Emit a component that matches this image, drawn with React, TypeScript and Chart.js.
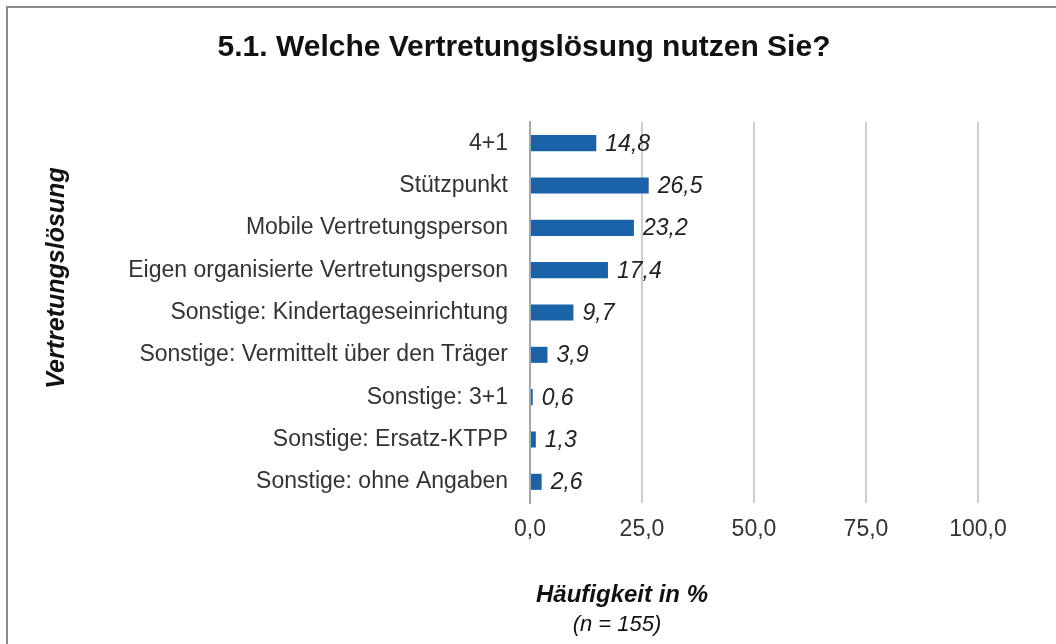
import React, { useEffect, useRef } from 'react';
import { Chart, registerables } from 'chart.js';

Chart.register(...registerables);

const TITLE = '5.1. Welche Vertretungslösung nutzen Sie?';
const Y_TITLE = 'Vertretungslösung';
const X_TITLE = 'Häufigkeit in %';
const X_SUBTITLE = '(n = 155)';

const categories = [
  '4+1',
  'Stützpunkt',
  'Mobile Vertretungsperson',
  'Eigen organisierte Vertretungsperson',
  'Sonstige: Kindertageseinrichtung',
  'Sonstige: Vermittelt über den Träger',
  'Sonstige: 3+1',
  'Sonstige: Ersatz-KTPP',
  'Sonstige: ohne Angaben',
];
const values = [14.8, 26.5, 23.2, 17.4, 9.7, 3.9, 0.6, 1.3, 2.6];
const xTicks = [0, 25, 50, 75, 100];

const FONT = "'Liberation Sans', Arial, Helvetica, sans-serif";
const fmt = (v: number) => v.toFixed(1).replace('.', ',');

const decorPlugin = {
  id: 'decor',
  beforeDraw(chart: any) {
    const { ctx, width, height } = chart;
    ctx.save();
    ctx.fillStyle = '#ffffff';
    ctx.fillRect(0, 0, width, height);
    ctx.strokeStyle = '#8a8a8a';
    ctx.lineWidth = 2;
    ctx.beginPath();
    ctx.moveTo(7, height);
    ctx.lineTo(7, 7);
    ctx.lineTo(width, 7);
    ctx.stroke();
    ctx.restore();
  },
  afterDatasetsDraw(chart: any) {
    const { ctx } = chart;
    const meta = chart.getDatasetMeta(0);
    ctx.save();
    ctx.font = `italic 23px ${FONT}`;
    ctx.fillStyle = '#222222';
    ctx.textAlign = 'left';
    ctx.textBaseline = 'middle';
    meta.data.forEach((bar: any, i: number) => {
      ctx.fillText(fmt(values[i]), bar.x + 9, bar.y + 1);
    });
    ctx.restore();
  },
  afterDraw(chart: any) {
    const { ctx, chartArea } = chart;
    ctx.save();
    ctx.fillStyle = '#111111';
    ctx.textAlign = 'center';
    ctx.textBaseline = 'middle';
    // main title
    ctx.font = `bold 30px ${FONT}`;
    ctx.fillText(TITLE, 524, 48);
    // x axis title
    ctx.font = `bold italic 24px ${FONT}`;
    ctx.fillText(X_TITLE, chartArea.left + 92, chartArea.bottom + 92);
    ctx.font = `italic 22px ${FONT}`;
    ctx.fillText(X_SUBTITLE, chartArea.left + 87, chartArea.bottom + 122);
    // y axis title
    ctx.translate(57, chartArea.top + 156);
    ctx.rotate(-Math.PI / 2);
    ctx.font = `bold italic 25px ${FONT}`;
    ctx.fillText(Y_TITLE, 0, 0);
    ctx.restore();
  },
};

export default function App() {
  const canvasRef = useRef<HTMLCanvasElement | null>(null);

  useEffect(() => {
    document.body.style.margin = '0';
    const canvas = canvasRef.current;
    if (!canvas) return;
    const chart = new Chart(canvas, {
      type: 'bar',
      data: {
        labels: categories,
        datasets: [
          {
            data: values,
            backgroundColor: '#1a63a8',
            borderWidth: 0,
            barPercentage: 0.38,
            categoryPercentage: 1,
          },
        ],
      },
      options: {
        indexAxis: 'y',
        responsive: false,
        animation: false,
        devicePixelRatio: 1,
        layout: { padding: { top: 122, right: 78, bottom: 0, left: 0 } },
        plugins: {
          legend: { display: false },
          tooltip: { enabled: false },
          title: { display: false },
        },
        scales: {
          x: {
            type: 'linear',
            min: 0,
            max: 100,
            afterBuildTicks: (scale: any) => {
              scale.ticks = xTicks.map((v) => ({ value: v }));
            },
            afterFit: (scale: any) => {
              scale.height = 141;
            },
            ticks: {
              callback: (v: any) => fmt(Number(v)),
              font: { family: FONT, size: 23 },
              color: '#333333',
              padding: 13,
              maxRotation: 0,
            },
            grid: {
              color: (c: any) => (c.tick && c.tick.value === 0 ? 'rgba(0,0,0,0)' : '#cfcfcf'),
              lineWidth: 2,
              drawTicks: false,
            },
            border: { display: false },
          },
          y: {
            type: 'category',
            afterFit: (scale: any) => {
              scale.width = 530;
            },
            ticks: {
              font: { family: FONT, size: 23 },
              color: '#333333',
              padding: 22,
              autoSkip: false,
            },
            grid: { display: false, drawTicks: false },
            border: { display: true, color: '#a6a6a6', width: 2 },
          },
        },
      },
      plugins: [decorPlugin],
    });
    return () => chart.destroy();
  }, []);

  return (
    <div style={{ position: 'fixed', left: 0, top: 0, width: 1056, height: 644, background: '#fff' }}>
      <canvas ref={canvasRef} width={1056} height={644} style={{ width: 1056, height: 644, display: 'block' }} />
    </div>
  );
}
